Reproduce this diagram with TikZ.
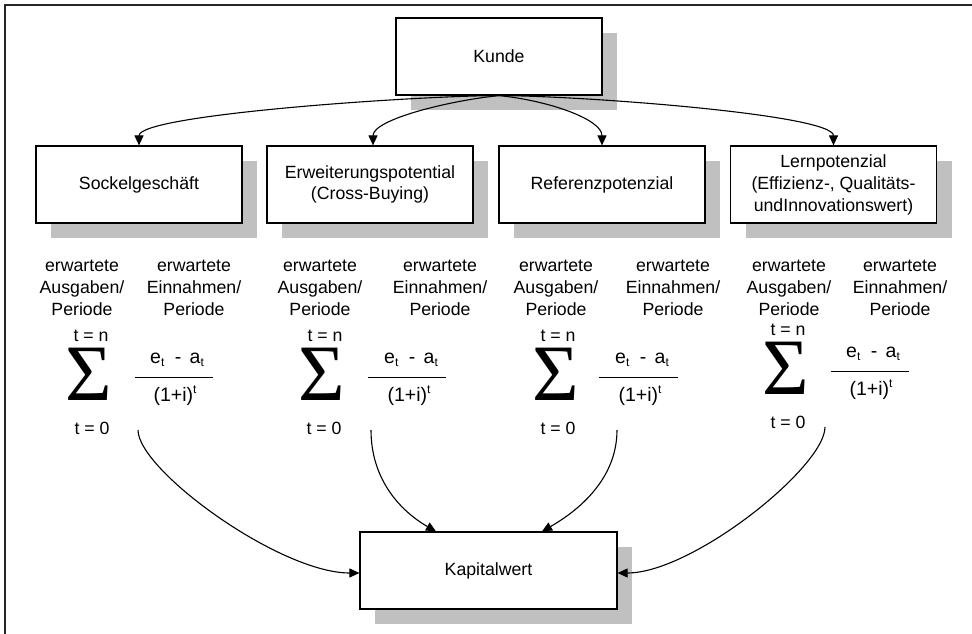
\documentclass[tikz,border=0pt]{standalone}
\usepackage{fontspec}
\setmainfont{Liberation Sans}
\newfontfamily\sigmafont{Liberation Serif}
\usetikzlibrary{arrows.meta,shadows}
\definecolor{shadowgray}{RGB}{192,192,192}
\newcommand{\lowsub}[1]{\raisebox{-0.3ex}{\fontsize{12}{12}\selectfont #1}}
\newcommand{\highsup}[1]{\raisebox{0.8ex}{\fontsize{12}{12}\selectfont #1}}
\newcommand{\numer}{e\lowsub{t}\hspace{5pt} - \hspace{3pt}a\lowsub{t}}
\newcommand{\denom}{(1+i)\highsup{t}}
\begin{document}
\begin{tikzpicture}[x=1pt,y=-1pt,
  every node/.style={font=\fontsize{17.7}{21}\selectfont, inner sep=0pt},
  box/.style={draw, line width=1.2pt, fill=white, minimum width=206pt, minimum height=77pt, align=center,
    drop shadow={shadow xshift=15pt, shadow yshift=-15pt, fill=shadowgray, opacity=1}},
  conn/.style={line width=1.1pt, -{Triangle[length=10pt,width=9pt]}},
  lbl/.style={align=center, font=\fontsize{17.7}{22}\selectfont},
  sig/.style={anchor=base, font=\sigmafont\fontsize{80}{80}\selectfont},
  frac/.style={font=\fontsize{19.5}{22}\selectfont},
  fracline/.style={line width=1pt}]
\useasboundingbox (0,0) rectangle (972,634);
\fill[white] (0,0) rectangle (972,634);
\draw[line width=2.2pt, black!85] (5,634) -- (5,5) -- (972,5);

% boxes
\node[box] (kunde) at (499,56.5) {Kunde};
\node[box] (sockel) at (139,184.5) {Sockelgeschäft};
\node[box] (erw) at (370,184.5) {Erweiterungspotential\\(Cross-Buying)};
\node[box] (ref) at (602,184.5) {Referenzpotenzial};
\node[box, font=\fontsize{17.7}{22}\selectfont] (lern) at (833.5,184.5) {Lernpotenzial\\(Effizienz-, Qualitäts-\\undInnovationswert)};
\node[box, minimum width=257pt] (kap) at (488.5,570.5) {Kapitalwert};

% arrows from Kunde
\draw[conn] (kunde.south) .. controls +(-80,0) and +(0,-31) .. (sockel.north);
\draw[conn] (kunde.south) .. controls +(-50,5) and +(0,-26) .. ([xshift=3pt]erw.north);
\draw[conn] (kunde.south) .. controls +(50,5) and +(0,-26) .. (ref.north);
\draw[conn] (kunde.south) .. controls +(80,0) and +(0,-31) .. (lern.north);

% labels
\node[lbl] (a1) at (82,288) {erwartete\\Ausgaben/\\Periode};
\node[lbl] (e1) at (194,288) {erwartete\\Einnahmen/\\Periode};
\node[lbl] (a2) at (320,288) {erwartete\\Ausgaben/\\Periode};
\node[lbl] (e2) at (440,288) {erwartete\\Einnahmen/\\Periode};
\node[lbl] (a3) at (556,288) {erwartete\\Ausgaben/\\Periode};
\node[lbl] (e3) at (673,288) {erwartete\\Einnahmen/\\Periode};
\node[lbl] (a4) at (789,288) {erwartete\\Ausgaben/\\Periode};
\node[lbl] (e4) at (900,288) {erwartete\\Einnahmen/\\Periode};

% formula 1
\node[sig] (sig1) at (89,400) {Σ};
\node (tn1) at (91,336) {t = n};
\node (tz1) at (92,428) {t = 0};
\node[frac] (num1) at (177,360) {\numer};
\node[frac] (den1) at (175,396) {\denom};
\draw[fracline] (135,377) -- (213,377);

% formula 2
\node[sig] (sig2) at (322,400) {Σ};
\node (tn2) at (325,336) {t = n};
\node (tz2) at (324,428) {t = 0};
\node[frac] (num2) at (411,360) {\numer};
\node[frac] (den2) at (409,396) {\denom};
\draw[fracline] (368,377) -- (446,377);

% formula 3
\node[sig] (sig3) at (556,400) {Σ};
\node (tn3) at (558,336) {t = n};
\node (tz3) at (558,428) {t = 0};
\node[frac] (num3) at (642,360) {\numer};
\node[frac] (den3) at (640,396) {\denom};
\draw[fracline] (599,377) -- (678,377);

% formula 4
\node[sig] (sig4) at (786,394) {Σ};
\node (tn4) at (788,330) {t = n};
\node (tz4) at (788,422) {t = 0};
\node[frac] (num4) at (873,354) {\numer};
\node[frac] (den4) at (871,390) {\denom};
\draw[fracline] (831,371) -- (909,371);

% arrows to Kapitalwert
\coordinate (s1) at (138,430);
\coordinate (s2) at (371,430);
\coordinate (s3) at (617,430);
\coordinate (s4) at (825,427);
\draw[conn] (s1) .. controls +(0,40) and +(-80,0) .. ([yshift=-2.5pt]kap.west);
\draw[conn] (s2) .. controls +(0,50) and +(-35,-20) .. ([xshift=-52.5pt]kap.north);
\draw[conn] (s3) .. controls +(0,50) and +(35,-20) .. ([xshift=53.5pt]kap.north);
\draw[conn] (s4) .. controls +(0,40) and +(75,0) .. ([yshift=-2.5pt]kap.east);
\end{tikzpicture}
\end{document}
